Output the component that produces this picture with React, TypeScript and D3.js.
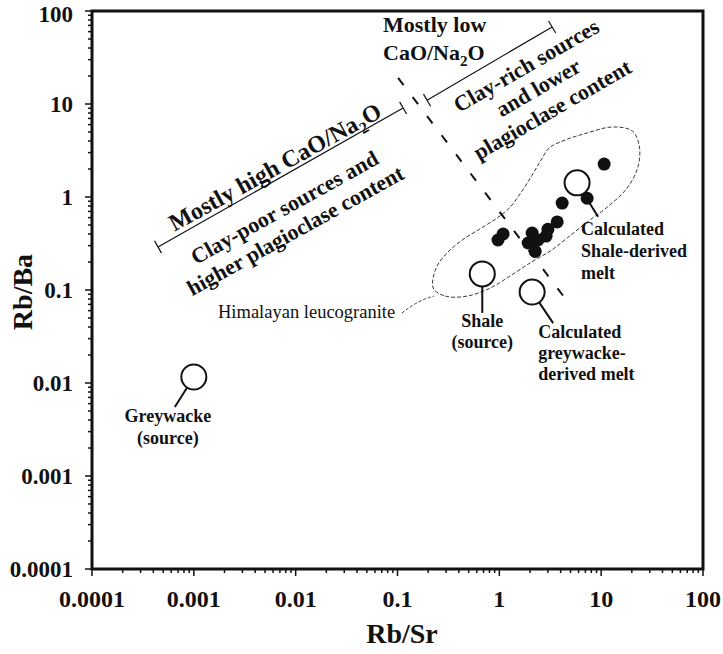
import React from "react";
import * as d3 from "d3";

// ---- Data ----
const xTickValues = [0.0001, 0.001, 0.01, 0.1, 1, 10, 100];
const xTickLabels = ["0.0001", "0.001", "0.01", "0.1", "1", "10", "100"];
const yTickValues = [0.0001, 0.001, 0.01, 0.1, 1, 10, 100];
const yTickLabels = ["0.0001", "0.001", "0.01", "0.1", "1", "10", "100"];

// Himalayan leucogranite samples (filled dots)
const sampleRbSr = [10.7, 4.14, 7.28, 0.97, 1.09, 2.1, 3.0, 3.7, 2.88, 1.92, 2.25, 2.4];
const sampleRbBa = [2.26, 0.86, 0.97, 0.345, 0.4, 0.41, 0.45, 0.54, 0.38, 0.32, 0.26, 0.345];

// Reference compositions (open circles)
const refNames = ["Greywacke (source)", "Shale (source)", "Calculated greywacke-derived melt", "Calculated Shale-derived melt"];
const refRbSr = [0.001, 0.68, 2.1, 5.8];
const refRbBa = [0.0116, 0.149, 0.095, 1.42];

// Himalayan leucogranite field outline
const fieldRbSr = [0.224, 0.294, 0.483, 0.813, 1.37, 2.15, 3.16, 4.63, 7.28, 11.5, 18.0, 23.1, 23.6, 20.2, 12.8, 7.28, 4.43, 3.09, 2.57, 2.1, 1.67, 1.28, 0.95, 0.62, 0.42, 0.3, 0.24];
const fieldRbBa = [0.105, 0.086, 0.086, 0.105, 0.149, 0.205, 0.262, 0.362, 0.538, 0.78, 1.25, 2.15, 3.62, 5.13, 5.66, 4.88, 4.1, 3.37, 2.5, 1.72, 1.16, 0.78, 0.594, 0.442, 0.337, 0.244, 0.173];

// Annotation lines (Rb/Sr, Rb/Ba endpoints)
const highCaoRbSr = [0.000445, 0.1135];
const highCaoRbBa = [0.29, 9.06];
const lowCaoRbSr = [0.195, 3.3];
const lowCaoRbBa = [11.0, 67.3];
const dividerRbSr = [0.1014, 4.96];
const dividerRbBa = [19.1, 0.069];

const FONT = "'Liberation Serif', 'Times New Roman', serif";

export default function App() {
  const W = 723, H = 654;
  const x = d3.scaleLog().domain([1e-4, 100]).range([92, 703]);
  const y = d3.scaleLog().domain([1e-4, 100]).range([569, 11]);

  const minor: number[] = [];
  for (let e = -4; e < 2; e++) for (let k = 1; k < 10; k++) minor.push(k * Math.pow(10, e));
  minor.push(100);

  const fieldPts: [number, number][] = fieldRbSr.map((v, i) => [x(v), y(fieldRbBa[i])]);
  const fieldPath = d3.line().curve(d3.curveCatmullRomClosed.alpha(0.5))(fieldPts) || "";

  const bracket = (xs: number[], ys: number[], key: string) => {
    const x1 = x(xs[0]), y1 = y(ys[0]), x2 = x(xs[1]), y2 = y(ys[1]);
    const len = Math.hypot(x2 - x1, y2 - y1);
    const nx = -(y2 - y1) / len, ny = (x2 - x1) / len;
    const h = 7;
    return (
      <g key={key} stroke="#111" strokeWidth={1.2}>
        <line x1={x1} y1={y1} x2={x2} y2={y2} />
        <line x1={x1 - nx * h} y1={y1 - ny * h} x2={x1 + nx * h} y2={y1 + ny * h} />
        <line x1={x2 - nx * h} y1={y2 - ny * h} x2={x2 + nx * h} y2={y2 + ny * h} />
      </g>
    );
  };

  const R = 12.5;
  // leader offsets (px) from circle centre
  const leaders = [
    [-19, 30],
    [0, 39],
    [21, 31],
    [21, 34],
  ];

  const rot = (cx: number, cy: number, a: number) => `translate(${cx},${cy}) rotate(${a})`;

  return (
    <svg width={W} height={H} style={{ position: "absolute", left: 0, top: 0, background: "#fff" }} fontFamily={FONT}>
      <rect x={0} y={0} width={W} height={H} fill="#fff" />

      {/* field */}
      <path d={fieldPath} fill="none" stroke="#222" strokeWidth={0.9} strokeDasharray="4,2" />
      {/* leucogranite label leader */}
      <path d={`M402,313 Q418,300 ${x(fieldRbSr[0]) + 1},${y(fieldRbBa[0]) + 8}`} fill="none" stroke="#222" strokeWidth={0.9} strokeDasharray="3,2" />
      <text x={218} y={318} fontSize={18.5} fill="#111">Himalayan leucogranite</text>

      {/* divider dashed */}
      <line x1={x(dividerRbSr[0])} y1={y(dividerRbBa[0])} x2={x(dividerRbSr[1])} y2={y(dividerRbBa[1])} stroke="#111" strokeWidth={2} strokeDasharray="9,15" />

      {bracket(highCaoRbSr, highCaoRbBa, "hi")}
      {bracket(lowCaoRbSr, lowCaoRbBa, "lo")}

      {/* left text block */}
      <g fontWeight="bold" fontSize={22} fill="#111" textAnchor="middle">
        <text transform={rot(279, 174, -29)} fontSize={24}>
          Mostly high CaO/Na<tspan dy={6} fontSize={16}>2</tspan><tspan dy={-6}>O</tspan>
        </text>
        <text transform={rot(288, 214, -29)}>Clay-poor sources and</text>
        <text transform={rot(299, 237, -29)}>higher plagioclase content</text>
      </g>
      {/* right text block */}
      <g fontWeight="bold" fontSize={22} fill="#111">
        <text x={383} y={32}>Mostly low</text>
        <text x={383} y={60}>
          CaO/Na<tspan dy={6} fontSize={15}>2</tspan><tspan dy={-6}>O</tspan>
        </text>
        <g textAnchor="middle">
          <text transform={rot(530, 72, -30)}>Clay-rich sources</text>
          <text transform={rot(542, 94, -30)}>and lower</text>
          <text transform={rot(556, 116, -30)}>plagioclase content</text>
        </g>
      </g>

      {/* filled samples */}
      {sampleRbSr.map((v, i) => (
        <circle key={"s" + i} cx={x(v)} cy={y(sampleRbBa[i])} r={6.5} fill="#111" />
      ))}

      {/* reference circles with leaders */}
      {refRbSr.map((v, i) => {
        const cx = x(v), cy = y(refRbBa[i]);
        const [dx, dy] = leaders[i];
        const L = Math.hypot(dx, dy);
        return (
          <g key={"r" + i}>
            <line x1={cx + (dx / L) * R} y1={cy + (dy / L) * R} x2={cx + dx} y2={cy + dy} stroke="#111" strokeWidth={2} />
            <circle cx={cx} cy={cy} r={R} fill="#fff" fillOpacity={0} stroke="#111" strokeWidth={2} />
          </g>
        );
      })}

      {/* reference labels */}
      <g fontWeight="bold" fontSize={18} fill="#111">
        <g textAnchor="middle">
          <text x={x(refRbSr[0]) - 26} y={y(refRbBa[0]) + 45}>Greywacke</text>
          <text x={x(refRbSr[0]) - 26} y={y(refRbBa[0]) + 67}>(source)</text>
          <text x={x(refRbSr[1])} y={y(refRbBa[1]) + 53}>Shale</text>
          <text x={x(refRbSr[1])} y={y(refRbBa[1]) + 74}>(source)</text>
        </g>
        <text x={x(refRbSr[2]) + 6} y={y(refRbBa[2]) + 46}>Calculated</text>
        <text x={x(refRbSr[2]) + 6} y={y(refRbBa[2]) + 67}>greywacke-</text>
        <text x={x(refRbSr[2]) + 6} y={y(refRbBa[2]) + 88}>derived melt</text>
        <text x={x(refRbSr[3]) + 4} y={y(refRbBa[3]) + 52}>Calculated</text>
        <text x={x(refRbSr[3]) + 4} y={y(refRbBa[3]) + 74}>Shale-derived</text>
        <text x={x(refRbSr[3]) + 4} y={y(refRbBa[3]) + 96}>melt</text>
      </g>

      {/* axes frame */}
      <rect x={92} y={11} width={611} height={558} fill="none" stroke="#111" strokeWidth={3} />
      {minor.map((v, i) => {
        const major = Math.abs(Math.log10(v) - Math.round(Math.log10(v))) < 1e-9;
        const len = major ? 7 : 4;
        return (
          <g key={"t" + i} stroke="#111" strokeWidth={1.5}>
            <line x1={x(v)} y1={569} x2={x(v)} y2={569 + len} />
            <line x1={92} y1={y(v)} x2={92 - len} y2={y(v)} />
          </g>
        );
      })}

      <g fontWeight="bold" fill="#111">
        {xTickValues.map((v, i) => (
          <text key={"xl" + i} x={x(v)} y={607} fontSize={24} textAnchor="middle">{xTickLabels[i]}</text>
        ))}
        {yTickValues.map((v, i) => (
          <text key={"yl" + i} x={73} y={Math.max(y(v) + 8, 22)} fontSize={23} textAnchor="end">{yTickLabels[i]}</text>
        ))}
      </g>

      <text x={402} y={643} textAnchor="middle" fontWeight="bold" fontSize={28} fill="#111">Rb/Sr</text>
      <text transform={rot(32, 292, -90)} textAnchor="middle" fontWeight="bold" fontSize={28} fill="#111">Rb/Ba</text>
    </svg>
  );
}
